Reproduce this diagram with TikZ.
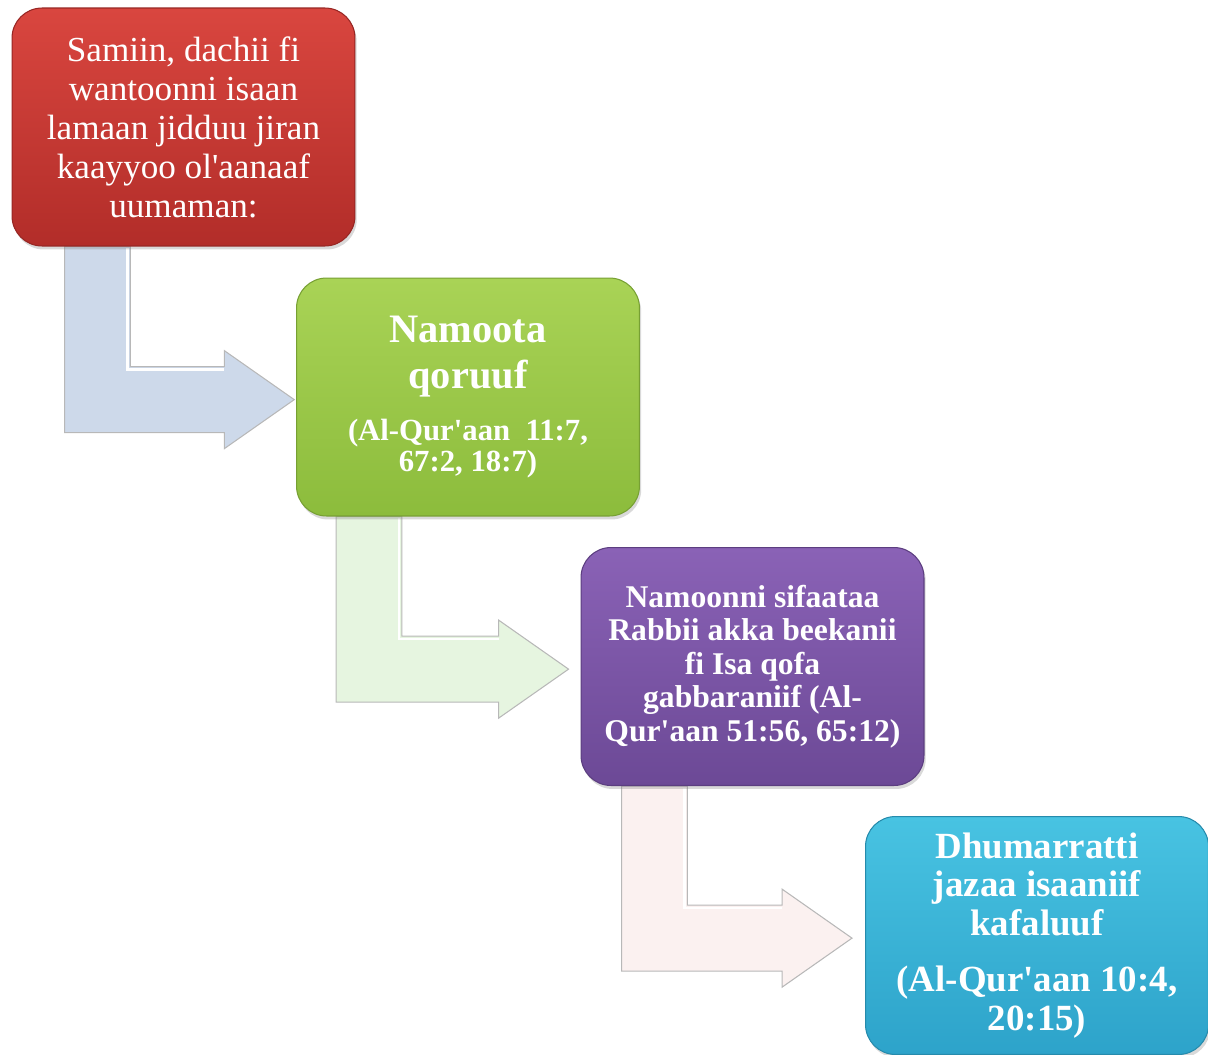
\documentclass[tikz,border=0pt]{standalone}
\usepackage{fontspec}
\setmainfont{Liberation Serif}
\usetikzlibrary{calc,shadows,backgrounds}

\definecolor{redtop}{HTML}{D9463F}
\definecolor{redbot}{HTML}{B22D29}
\definecolor{greentop}{HTML}{A9D356}
\definecolor{greenbot}{HTML}{8CBC3C}
\definecolor{purpletop}{HTML}{8A62B6}
\definecolor{purplebot}{HTML}{6C4996}
\definecolor{cyantop}{HTML}{48C3E2}
\definecolor{cyanbot}{HTML}{2DA3CA}
\definecolor{arrowblue}{HTML}{CDD9EA}
\definecolor{arrowgreen}{HTML}{E6F5E0}
\definecolor{arrowpink}{HTML}{FBF1F0}

\begin{document}
\begin{tikzpicture}[
    x=0.02cm, y=-0.02cm,
    box/.style={rounded corners=0.6cm, minimum width=6.86cm, minimum height=4.76cm,
      align=center, text=white, line width=0.6pt,
      drop shadow={opacity=0.3, shadow xshift=1pt, shadow yshift=-2pt}},
    startbox/.style={box, draw=redbot!85!black, top color=redtop, bottom color=redbot,
      font=\fontsize{20}{22.2}\selectfont},
    trialbox/.style={box, draw=greenbot!85!black, top color=greentop, bottom color=greenbot,
      font=\bfseries\fontsize{17.5}{17.5}\selectfont},
    servebox/.style={box, draw=purplebot!85!black, top color=purpletop, bottom color=purplebot,
      font=\bfseries\fontsize{18}{19}\selectfont},
    rewardbox/.style={box, draw=cyanbot!85!black, top color=cyantop, bottom color=cyanbot,
      font=\bfseries\fontsize{21}{22}\selectfont},
    bent/.style={draw=black!28, line width=0.6pt},
    bevel/.style={draw=white, line width=1.6pt}
  ]

  \useasboundingbox (0,0) rectangle (1208,1055);

  % Steps going down to the right
  \node[startbox] (samiin) at (183.5,127) {Samiin, dachii fi\\wantoonni isaan\\lamaan jidduu jiran\\kaayyoo ol\textquotesingle aanaaf\\uumaman:};
  \node[trialbox] (namoota) at (468,397) {{\fontsize{23}{26.5}\selectfont Namoota}\\[9pt]{\fontsize{23}{26.5}\selectfont qoruuf}\\[12pt](Al-Qur\textquotesingle aan~ 11:7,\\67:2, 18:7)};
  \node[servebox] (namoonni) at (752.5,666.5) {Namoonni sifaataa\\Rabbii akka beekanii\\fi Isa qofa\\gabbaraniif (Al-\\Qur\textquotesingle aan 51:56, 65:12)};
  \node[rewardbox] (dhumarratti) at (1037,935.5) {Dhumarratti\\jazaa isaaniif\\kafaluuf\\[10pt](Al-Qur\textquotesingle aan 10:4,\\20:15)};

  % Bent arrows behind the boxes
  \begin{scope}[on background layer]
    \foreach \from/\to/\col/\off/\gap in {samiin/namoota/arrowblue/30.2pt/1pt,
        namoota/namoonni/arrowgreen/22.8pt/6.8pt, namoonni/dhumarratti/arrowpink/23.4pt/7.4pt}
    {
      \path[bent, fill=\col] let \p1=(\from.south west), \p2=($(\to.west)+(-\gap,-1.5pt)$) in
        (\x1+\off,\y1) -- (\x1+\off,\y2-18.8pt) -- (\x2-39.8pt,\y2-18.8pt)
        -- (\x2-39.8pt,\y2-27.9pt) -- (\x2,\y2) -- (\x2-39.8pt,\y2+27.9pt)
        -- (\x2-39.8pt,\y2+18.8pt) -- (\x1+\off+37.4pt,\y2+18.8pt) -- (\x1+\off+37.4pt,\y1) -- cycle;
      \path[bevel] let \p1=(\from.south west), \p2=($(\to.west)+(-\gap,-1.5pt)$) in
        (\x1+\off+35.8pt,\y1-1pt) -- (\x1+\off+35.8pt,\y2+17.2pt) -- (\x2-39.8pt,\y2+17.2pt);
    }
  \end{scope}

\end{tikzpicture}
\end{document}
